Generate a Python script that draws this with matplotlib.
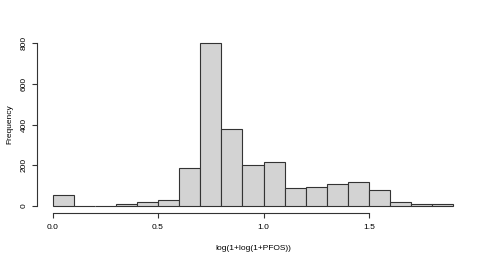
import matplotlib
matplotlib.use("Agg")
import matplotlib.pyplot as plt
import numpy as np

plt.rcParams['font.family'] = ['Liberation Sans', 'DejaVu Sans']

bin_edges = [0.0, 0.1, 0.2, 0.3, 0.4, 0.5, 0.6, 0.7, 0.8, 0.9, 1.0,
             1.1, 1.2, 1.3, 1.4, 1.5, 1.6, 1.7, 1.8, 1.9]
counts = [55, 1, 1, 12, 18, 30, 186, 800, 380, 201, 214,
          90, 91, 108, 116, 78, 18, 8, 10]
xticks = [0.0, 0.5, 1.0, 1.5]
xtick_labels = ["0.0", "0.5", "1.0", "1.5"]
yticks = [0, 200, 400, 600, 800]

fig = plt.figure(figsize=(4.88, 2.58), dpi=100)
ax = fig.add_axes([0.0748, 0.1763, 0.962 - 0.0748, 0.8585 - 0.1763])

edges = np.array(bin_edges)
ax.bar(edges[:-1], counts, width=np.diff(edges), align='edge',
       color='#D3D3D3', edgecolor='#333333', linewidth=0.8)

ax.set_xlim(-0.076, 1.976)
ax.set_ylim(-32, 832)

for s in ['top', 'right']:
    ax.spines[s].set_visible(False)
ax.spines['left'].set_bounds(0, 800)
ax.spines['bottom'].set_bounds(0, 1.5)
for s in ['left', 'bottom']:
    ax.spines[s].set_linewidth(0.8)
    ax.spines[s].set_color('#333333')

ax.set_xticks(xticks)
ax.set_xticklabels(xtick_labels)
ax.set_yticks(yticks)
ax.set_yticklabels([str(v) for v in yticks], rotation=90, va='center')
ax.tick_params(axis='both', labelsize=6, length=3.5, width=0.8, color='#333333')
ax.tick_params(axis='x', pad=5)
ax.tick_params(axis='y', pad=3)

ax.set_xlabel("log(1+log(1+PFOS))", fontsize=6, labelpad=10)
ax.set_ylabel("Frequency", fontsize=6, labelpad=5)

fig.savefig("out.png", dpi=100)
